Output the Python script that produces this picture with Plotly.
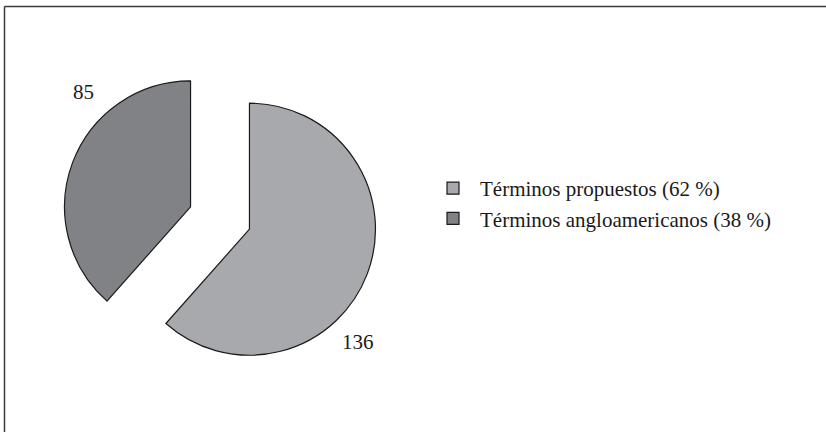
import plotly.graph_objects as go

labels = ["Términos propuestos (62 %)", "Términos angloamericanos (38 %)"]
values = [136, 85]
colors = ["#a7a9ac", "#808285"]

W, H = 826, 432

def px(x):
    return x / W

def py(y):
    return 1 - y / H

fig = go.Figure()
fig.add_trace(go.Pie(
    labels=labels,
    values=values,
    sort=False,
    direction="clockwise",
    rotation=0,
    pull=[0.25, 0.25],
    textinfo="none",
    hoverinfo="label+value",
    marker=dict(colors=colors, line=dict(color="#1a1a1a", width=1.2)),
    domain=dict(x=[px(62.5), px(377.5)], y=[py(375.5), py(60.5)]),
))

# value labels
label_pos = [(358, 342), (83, 92)]
for v, (lx, ly) in zip(values, label_pos):
    fig.add_annotation(x=px(lx), y=py(ly), xref="paper", yref="paper",
                       xanchor="center", yanchor="middle",
                       text=str(v), showarrow=False,
                       font=dict(family="Liberation Serif", size=21, color="#1a1a1a"))

# frame lines (top and left)
fig.add_shape(type="line", xref="paper", yref="paper",
              x0=px(4.5), x1=px(4.5), y0=0, y1=py(6.5),
              line=dict(color="#3a3a3a", width=1.5))
fig.add_shape(type="line", xref="paper", yref="paper",
              x0=px(4.5), x1=1.0, y0=py(6.5), y1=py(6.5),
              line=dict(color="#3a3a3a", width=1.5))

fig.update_layout(
    width=W, height=H,
    margin=dict(l=0, r=0, t=0, b=0),
    paper_bgcolor="white",
    plot_bgcolor="white",
    showlegend=True,
    legend=dict(x=px(426), y=py(168), xanchor="left", yanchor="top",
                itemwidth=44,
                font=dict(family="Liberation Serif", size=21, color="#1a1a1a"),
                bgcolor="rgba(0,0,0,0)"),
)

fig.write_html("out.html", config={"displayModeBar": False},
               post_script="document.body.style.margin='0';")
